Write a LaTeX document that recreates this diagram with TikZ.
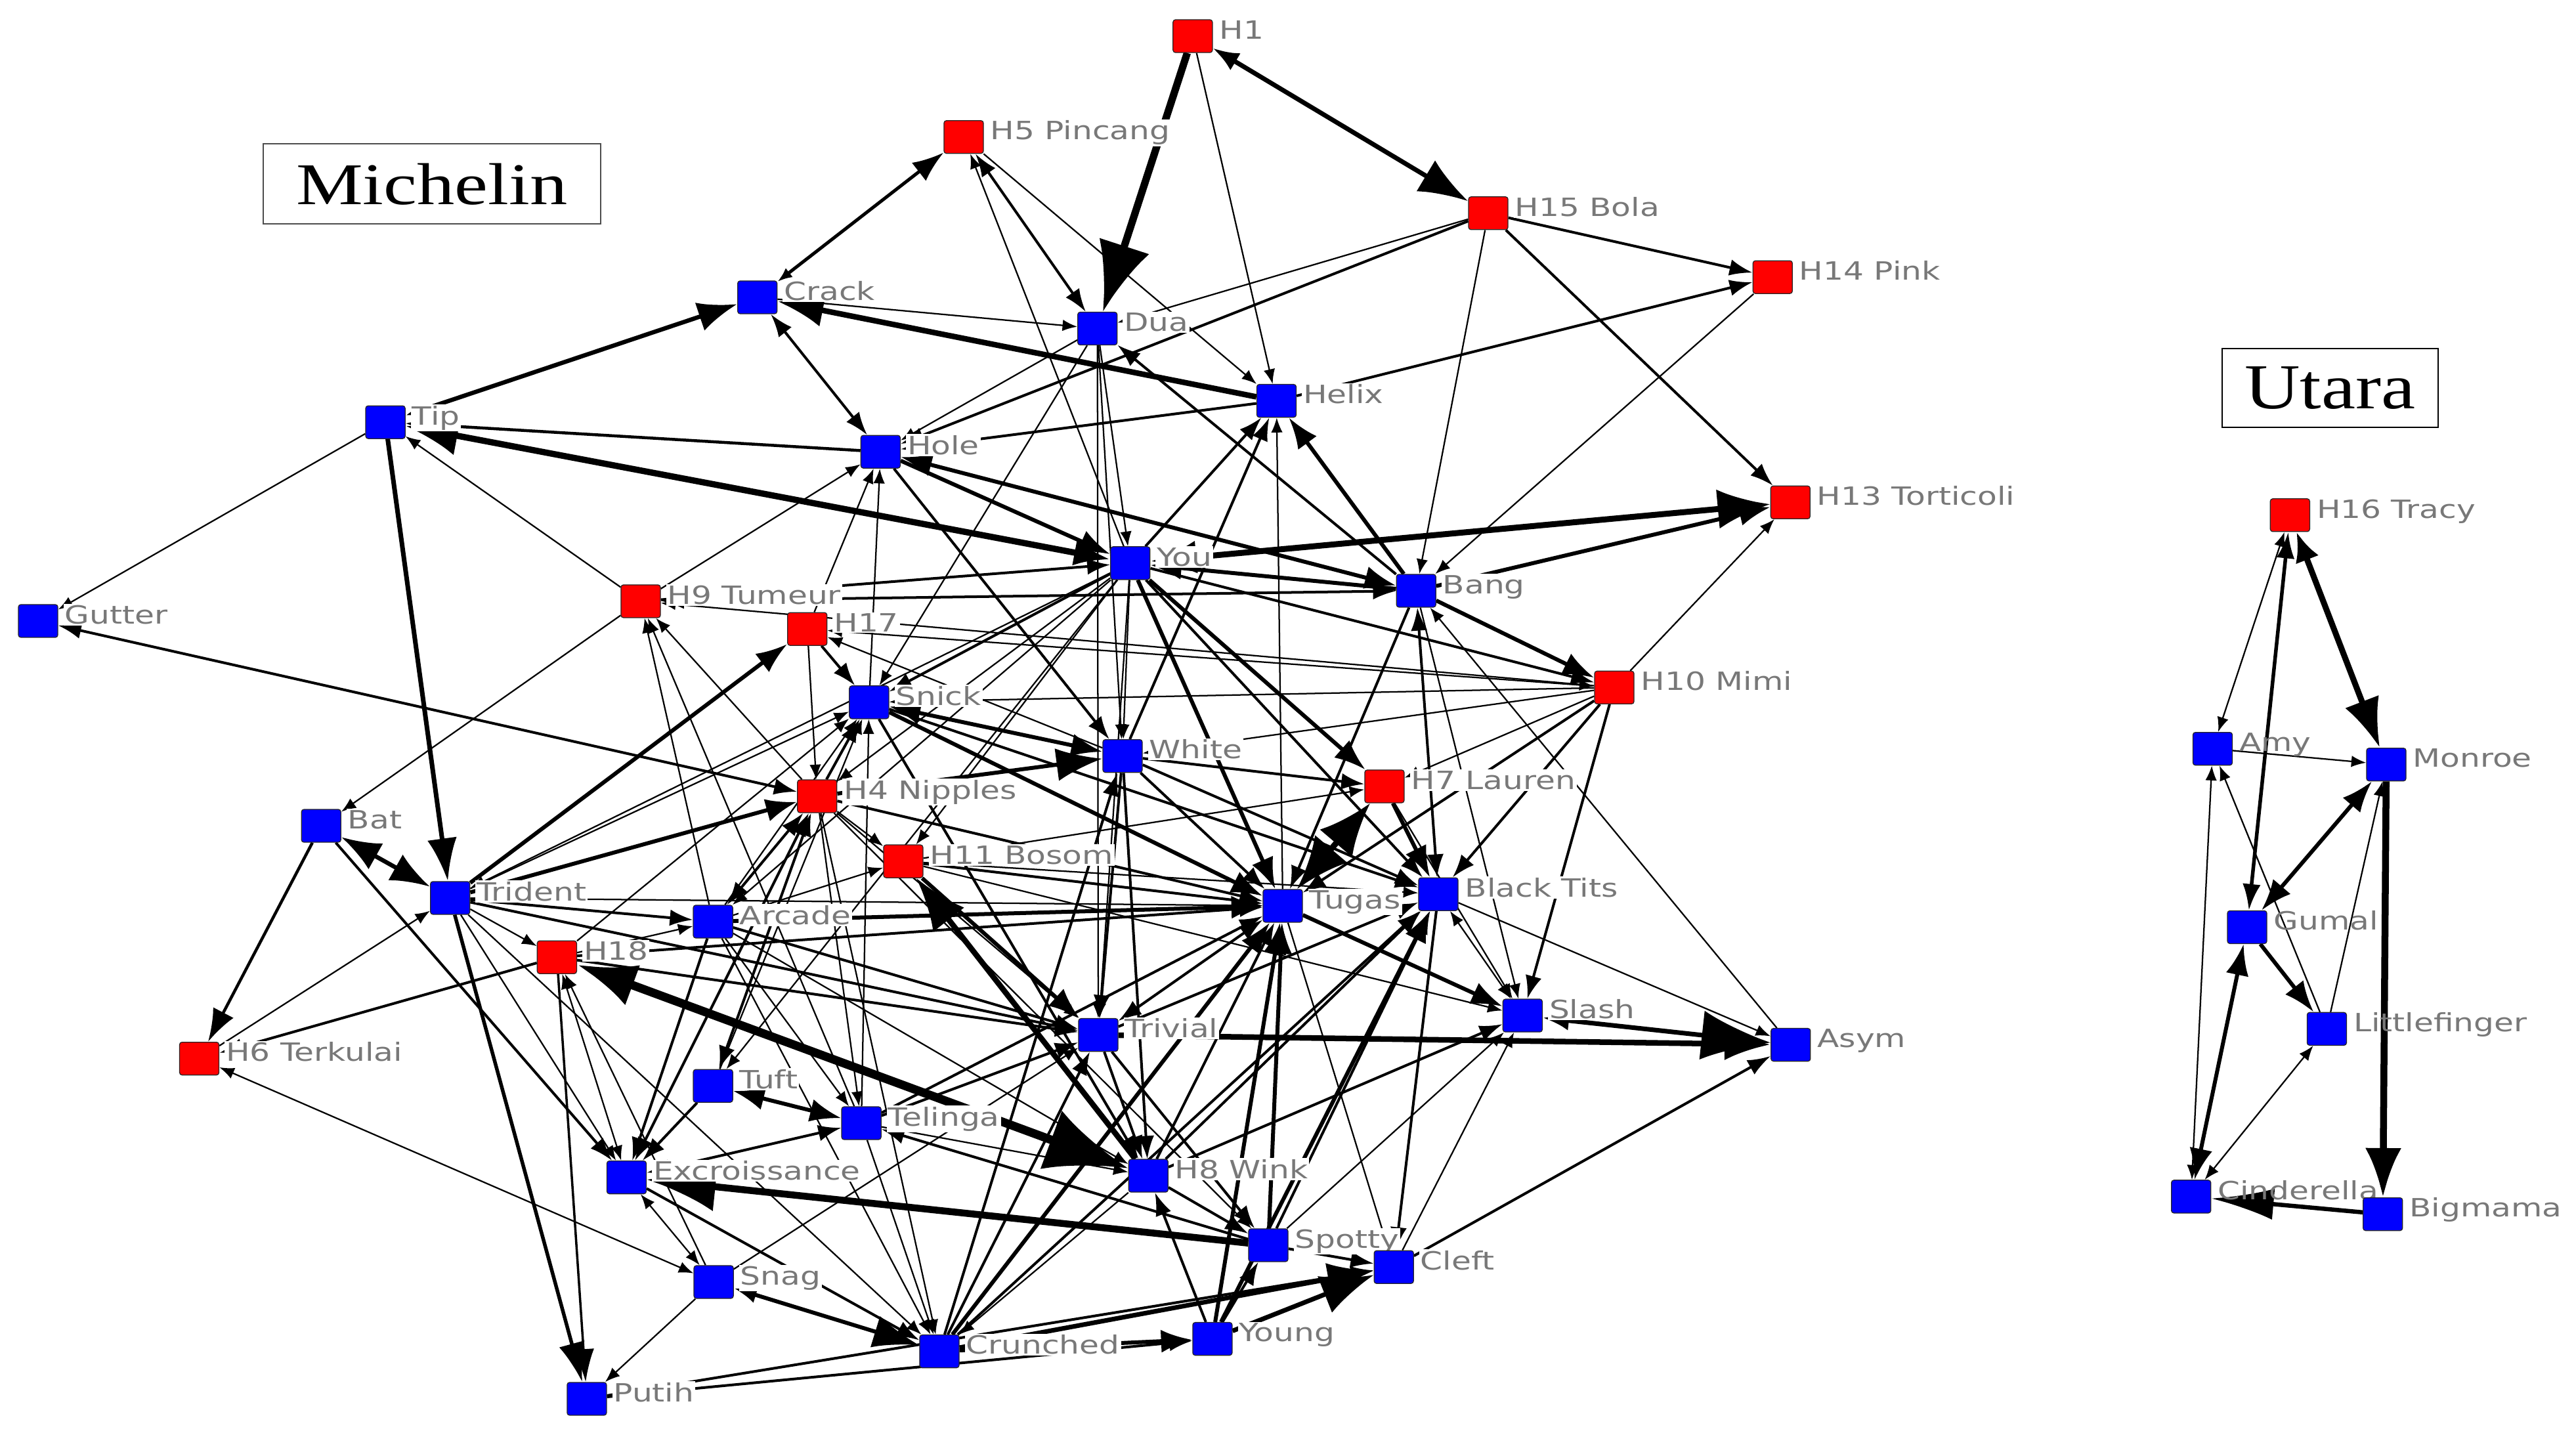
\documentclass[tikz,border=0pt]{standalone}
\usepackage{fontspec}
\usetikzlibrary{arrows.meta}
\newfontfamily\lblfont[FakeStretch=1.27]{DejaVu Sans}
\newfontfamily\michfont[FakeStretch=1.27]{Liberation Serif}
\newfontfamily\utfont[FakeStretch=1.2]{Liberation Serif}
\definecolor{nblue}{RGB}{0,0,255}
\definecolor{nred}{RGB}{255,0,0}
\definecolor{lgray}{RGB}{120,120,120}
\pgfdeclarelayer{edges}
\pgfdeclarelayer{labels}
\pgfsetlayers{edges,labels,main}
\tikzset{
  nb/.style={rectangle, minimum width=24pt, minimum height=20pt, inner sep=0pt, rounded corners=1.5pt, draw=black!85, line width=0.5pt, fill=nblue},
  nr/.style={nb, fill=nred},
  lbl/.style={anchor=base west, inner sep=0.8pt, fill=white, text=lgray, font={\lblfont\fontsize{15.3}{18}\selectfont}},
  lblu/.style={lbl, fill=none},
  ed/.style={draw=black, line join=miter},
  w1/.style={ed, line width=0.9pt, -{Latex[length=9pt,width=7pt]}},
  w2/.style={ed, line width=1.6pt, -{Latex[length=14pt,width=10pt]}},
  w3/.style={ed, line width=2.4pt, -{Latex[length=19pt,width=14pt]}},
  w4/.style={ed, line width=3.4pt, -{Latex[length=28pt,width=20pt]}},
  w5/.style={ed, line width=4.5pt, -{Latex[length=42pt,width=32pt]}},
  b1/.style={ed, line width=0.9pt, {Latex[length=9pt,width=7pt]}-{Latex[length=9pt,width=7pt]}},
  b2/.style={ed, line width=1.6pt, {Latex[length=14pt,width=10pt]}-{Latex[length=14pt,width=10pt]}},
  b3/.style={ed, line width=2.4pt, {Latex[length=19pt,width=14pt]}-{Latex[length=19pt,width=14pt]}},
  b4/.style={ed, line width=3.4pt, {Latex[length=28pt,width=20pt]}-{Latex[length=28pt,width=20pt]}},
}
\newcommand\mknode[4]{\node[#1] (#2) at (#3) {};\begin{pgfonlayer}{labels}\node[lbl] (#2l) at ([xshift=3pt,yshift=-1.7pt]#2.east) {#4};\end{pgfonlayer}}
\newcommand\mknodeu[4]{\node[#1] (#2) at (#3) {};\begin{pgfonlayer}{labels}\node[lblu] (#2l) at ([xshift=3pt,yshift=-1.7pt]#2.east) {#4};\end{pgfonlayer}}
\begin{document}
\begin{tikzpicture}[x=1pt,y=-1pt]
\useasboundingbox (0,0) rectangle (1568,872);
% titles
\node[draw=black!70, line width=0.8pt, minimum width=205.5pt, minimum height=48.7pt, inner sep=0pt] (mich) at (262.8,112) {\michfont\fontsize{36}{40}\selectfont Michelin};
\node[draw=black, line width=0.8pt, minimum width=131.5pt, minimum height=48pt, inner sep=0pt] (utara) at (1418.3,236) {\utfont\fontsize{39}{42}\selectfont Utara};
% Michelin nodes
\mknode{nr}{H1}{726,22}{H1}
\mknode{nr}{H5}{586.6,83.4}{H5 Pincang}
\mknode{nr}{H15}{905.9,129.8}{H15 Bola}
\mknode{nr}{H14}{1079,168.7}{H14 Pink}
\mknode{nb}{Crack}{461,181}{Crack}
\mknode{nb}{Dua}{668,200}{Dua}
\mknode{nb}{Helix}{777,244}{Helix}
\mknode{nb}{Tip}{234.6,257}{Tip}
\mknode{nb}{Hole}{536,275}{Hole}
\mknode{nr}{H13}{1089.8,305.8}{H13 Torticoli}
\mknode{nb}{You}{688,342.8}{You}
\mknode{nb}{Bang}{862,359.6}{Bang}
\mknode{nb}{Gutter}{23.2,378}{Gutter}
\mknode{nr}{H9}{390,366}{H9 Tumeur}
\mknode{nr}{H17}{491.4,382.9}{H17}
\mknode{nr}{H10}{982.6,418.5}{H10 Mimi}
\mknode{nb}{Snick}{529,427.5}{Snick}
\mknode{nb}{White}{683.3,460.2}{White}
\mknode{nr}{H7}{842.7,478.7}{H7 Lauren}
\mknode{nr}{H4}{497.4,484.7}{H4 Nipples}
\mknode{nb}{Bat}{195.5,502.7}{Bat}
\mknode{nr}{H11}{549.8,524.3}{H11 Bosom}
\mknode{nb}{Trident}{274,546.6}{Trident}
\mknode{nb}{Tugas}{780.8,551.4}{Tugas}
\mknode{nb}{BlackTits}{875.5,544.3}{Black Tits}
\mknode{nb}{Arcade}{434,561}{Arcade}
\mknode{nr}{H18}{339,582.7}{H18}
\mknode{nb}{Slash}{926.8,618.2}{Slash}
\mknode{nb}{Asym}{1090,636}{Asym}
\mknode{nb}{Trivial}{668.5,630}{Trivial}
\mknode{nr}{H6}{121.3,644.4}{H6 Terkulai}
\mknode{nb}{Tuft}{434,661}{Tuft}
\mknode{nb}{Telinga}{524.3,683.7}{Telinga}
\mknode{nb}{Excroissance}{381.4,716.7}{Excroissance}
\mknode{nb}{H8}{699,715.7}{H8 Wink}
\mknode{nb}{Spotty}{772,758}{Spotty}
\mknode{nb}{Cleft}{848.4,771.3}{Cleft}
\mknode{nb}{Snag}{434.4,780.4}{Snag}
\mknode{nb}{Young}{738,815}{Young}
\mknode{nb}{Crunched}{571.8,822.6}{Crunched}
\mknode{nb}{Putih}{357.2,851.5}{Putih}
% Utara nodes
\mknodeu{nr}{H16}{1393.9,313.6}{H16 Tracy}
\mknodeu{nb}{Amy}{1346.8,455.8}{Amy}
\mknodeu{nb}{Monroe}{1452.5,465.4}{Monroe}
\mknodeu{nb}{Gumal}{1367.8,564.4}{Gumal}
\mknodeu{nb}{Littlefinger}{1416.3,626.3}{Littlefinger}
\mknodeu{nb}{Cinderella}{1333.7,728.4}{Cinderella}
\mknodeu{nb}{Bigmama}{1450.4,739.1}{Bigmama}
\begin{pgfonlayer}{edges}
% ---- top part
\draw[w5] (H1) -- (Dua);
\draw[ed, line width=2.8pt, {Latex[length=16pt,width=12pt]}-{Latex[length=30pt,width=22pt]}] (H1) -- (H15);
\draw[w1] (H1) -- (Helix);
\draw[ed, line width=2pt, {Latex[length=9pt,width=7pt]}-{Latex[length=19pt,width=14pt]}] (Crack) -- (H5);
\draw[b2] (H5) -- (Dua);
\draw[w1] (H5) -- (Helix);
\draw[w1] (You) -- (H5);
\draw[w1] (Crack) -- (Dua);
\draw[w4] (Helix) -- (Crack);
\draw[b2] (Crack) -- (Hole);
\draw[ed, line width=2.6pt, {Latex[length=9pt,width=7pt]}-{Latex[length=24pt,width=18pt]}] (Tip) -- (Crack);
\draw[w2] (Helix) -- (Hole);
\draw[ed, line width=1.8pt, -{Latex[length=26pt,width=20pt]}] (Hole) -- (Tip);
\draw[ed, line width=3.8pt, {Latex[length=22pt,width=16pt]}-{Latex[length=32pt,width=24pt]}] (You) -- (Tip);
\draw[ed, line width=2.8pt, -{Latex[length=26pt,width=18pt]}] (Tip) -- (Trident);
\draw[w1] (Tip) -- (Gutter);
\draw[w1] (H9) -- (Tip);
\draw[w2] (H15) -- (H14);
\draw[w2] (H15) -- (H13);
\draw[w1] (H15) -- (Dua);
\draw[w2] (H15) -- (Hole);
\draw[w1] (H15) -- (Bang);
\draw[w2] (Helix) -- (H14);
\draw[w1] (H14) -- (Bang);
\draw[ed, line width=3.6pt, {Latex[length=28pt,width=20pt]}-{Latex[length=32pt,width=24pt]}] (You) -- (H13);
\draw[w3] (Bang) -- (H13);
\draw[w1] (H10) -- (H13);
\draw[w1] (Tugas) -- (Helix);
\draw[w3] (Bang) -- (Helix);
\draw[w2] (You) -- (Helix);
\draw[w2] (White) -- (Helix);
\draw[w2] (Bang) -- (Dua);
\draw[w1] (Dua) -- (Hole);
\draw[w1] (Dua) -- (You);
\draw[w1] (Dua) -- (White);
\draw[w1] (Dua) -- (Trivial);
\draw[w1] (Dua) -- (Snick);
\draw[w3] (Hole) -- (You);
\draw[b3] (Hole) -- (Bang);
\draw[w2] (Hole) -- (White);
\draw[w1] (Snick) -- (Hole);
\draw[w1] (H9) -- (Hole);
\draw[w1] (H17) -- (Hole);
\draw[w2] (H9) -- (You);
\draw[b2] (H9) -- (Bang);
\draw[w1] (H10) -- (H9);
\draw[w1] (H9) -- (Bat);
\draw[w1] (H4) -- (H9);
\draw[w1] (Arcade) -- (H9);
\draw[w1] (Telinga) -- (H9);
\draw[b2] (Gutter) -- (H4);
\draw[w3] (Trident) -- (H17);
\draw[w2] (H17) -- (Snick);
\draw[w1] (H17) -- (H4);
\draw[b1] (H17) -- (H10);
\draw[w1] (White) -- (H17);
% ---- You hub
\draw[w3] (Bang) -- (You);
\draw[w1] (You) -- (White);
\draw[w3] (You) -- (H7);
\draw[w3] (You) -- (Tugas);
\draw[w2] (You) -- (BlackTits);
\draw[w2] (You) -- (Snick);
\draw[w1] (You) -- (H4);
\draw[w1] (You) -- (Trident);
\draw[w1] (You) -- (H11);
\draw[w1] (You) -- (Arcade);
\draw[w1] (You) -- (Tuft);
\draw[w1] (You) -- (Trivial);
% ---- right part
\draw[w3] (Bang) -- (H10);
\draw[w2] (You) -- (H10);
\draw[b2] (Bang) -- (BlackTits);
\draw[w2] (Bang) -- (Tugas);
\draw[w1] (Bang) -- (Slash);
\draw[w2] (H10) -- (BlackTits);
\draw[w2] (H10) -- (Tugas);
\draw[w2] (H10) -- (Slash);
\draw[w1] (H10) -- (H7);
\draw[w1] (H10) -- (White);
\draw[w1] (H10) -- (Snick);
\draw[w1] (Asym) -- (Bang);
\draw[w1] (BlackTits) -- (Asym);
\draw[ed, line width=2.8pt, {Latex[length=16pt,width=12pt]}-{Latex[length=42pt,width=30pt]}] (Slash) -- (Asym);
\draw[w4] (Trivial) -- (Asym);
\draw[w2] (Cleft) -- (Asym);
\draw[w3] (Tugas) -- (Slash);
\draw[b1] (BlackTits) -- (Slash);
\draw[w1] (H7) -- (Slash);
\draw[ed, line width=3.6pt, {Latex[length=32pt,width=26pt]}-{Latex[length=32pt,width=26pt]}] (H7) -- (Tugas);
\draw[w3] (H7) -- (BlackTits);
\draw[w2] (White) -- (H7);
\draw[w2] (White) -- (Tugas);
\draw[w2] (White) -- (BlackTits);
\draw[w1] (H11) -- (H7);
% ---- middle
\draw[b3] (Snick) -- (White);
\draw[ed, line width=2.4pt, -{Latex[length=28pt,width=20pt]}] (H4) -- (White);
\draw[w2] (H4) -- (Snick);
\draw[w1] (Arcade) -- (Snick);
\draw[w1] (Trident) -- (Snick);
\draw[w1] (H18) -- (Snick);
\draw[w1] (Tuft) -- (Snick);
\draw[w1] (Telinga) -- (Snick);
\draw[w3] (Snick) -- (Tugas);
\draw[w2] (Snick) -- (BlackTits);
\draw[w3] (Trident) -- (H4);
\draw[w1] (H4) -- (H11);
\draw[b2] (H4) -- (Arcade);
\draw[b2] (Tuft) -- (H4);
\draw[b2] (H4) -- (Excroissance);
\draw[w1] (H4) -- (Telinga);
\draw[w2] (H4) -- (Tugas);
\draw[w1] (H4) -- (Trivial);
\draw[w1] (H4) -- (Crunched);
\draw[w1] (H4) -- (Spotty);
\draw[ed, line width=3.4pt, -{Latex[length=32pt,width=24pt]}] (H8) -- (H11);
\draw[w3] (H11) -- (Trivial);
\draw[w2] (H11) -- (Tugas);
\draw[w1] (Arcade) -- (H11);
\draw[w1] (H11) -- (BlackTits);
\draw[w1] (H11) -- (Slash);
% ---- left part
\draw[ed, line width=2.6pt, {Latex[length=24pt,width=18pt]}-{Latex[length=24pt,width=18pt]}] (Bat) -- (Trident);
\draw[ed, line width=1.8pt, -{Latex[length=20pt,width=14pt]}] (Bat) -- (H6);
\draw[w2] (Bat) -- (Excroissance);
\draw[w2] (Trident) -- (Arcade);
\draw[w1] (Trident) -- (H18);
\draw[ed, line width=2.2pt, -{Latex[length=24pt,width=16pt]}] (Trident) -- (Putih);
\draw[w1] (Trident) -- (Excroissance);
\draw[w1] (Trident) -- (Crunched);
\draw[w1] (H6) -- (Trident);
\draw[w2] (H18) -- (H6);
\draw[b1] (H6) -- (Snag);
\draw[ed, line width=5.2pt, {Latex[length=36pt,width=26pt]}-{Latex[length=50pt,width=38pt]}] (H18) -- (H8);
\draw[w1] (H18) -- (Arcade);
\draw[b1] (H18) -- (Excroissance);
\draw[ed, line width=1.4pt, -{Latex[length=20pt,width=13pt]}] (H18) -- (Putih);
\draw[w1] (Snag) -- (H18);
\draw[w2] (H18) -- (Tugas);
\draw[w2] (H18) -- (Trivial);
\draw[w3] (Arcade) -- (Tugas);
\draw[w2] (Arcade) -- (Excroissance);
\draw[w1] (Arcade) -- (Crunched);
\draw[w1] (Arcade) -- (Telinga);
\draw[w2] (Arcade) -- (Trivial);
\draw[w1] (Arcade) -- (H8);
\draw[w2] (Tuft) -- (Excroissance);
\draw[b3] (Tuft) -- (Telinga);
\draw[b2] (Telinga) -- (Excroissance);
\draw[w2] (Telinga) -- (Trivial);
\draw[w1] (Telinga) -- (H8);
\draw[w1] (Telinga) -- (Crunched);
\draw[w2] (Telinga) -- (Tugas);
% ---- bottom part
\draw[ed, line width=4.2pt, -{Latex[length=42pt,width=30pt]}] (Spotty) -- (Excroissance);
\draw[w2] (Excroissance) -- (Crunched);
\draw[b1] (Excroissance) -- (Snag);
\draw[ed, line width=2.4pt, {Latex[length=14pt,width=10pt]}-{Latex[length=28pt,width=20pt]}] (Snag) -- (Crunched);
\draw[w1] (Snag) -- (Putih);
\draw[w1] (Snag) -- (Trivial);
\draw[w3] (Crunched) -- (Young);
\draw[ed, line width=2.8pt, -{Latex[length=28pt,width=20pt]}] (Crunched) -- (Cleft);
\draw[w2] (Putih) -- (Cleft);
\draw[w2] (Putih) -- (Young);
\draw[w2] (Crunched) -- (Trivial);
\draw[w3] (Crunched) -- (Tugas);
\draw[w2] (Crunched) -- (BlackTits);
\draw[w2] (Crunched) -- (White);
\draw[w3] (Young) -- (Tugas);
\draw[w3] (Young) -- (BlackTits);
\draw[w2] (Young) -- (Spotty);
\draw[w2] (Young) -- (H8);
\draw[ed, line width=2.8pt, -{Latex[length=32pt,width=24pt]}] (Young) -- (Cleft);
\draw[w3] (Spotty) -- (Tugas);
\draw[w2] (Spotty) -- (BlackTits);
\draw[w2] (Spotty) -- (Cleft);
\draw[w2] (H8) -- (Spotty);
\draw[w1] (Spotty) -- (Slash);
\draw[w2] (Spotty) -- (Telinga);
\draw[w2] (Trivial) -- (Spotty);
\draw[w1] (Tugas) -- (Cleft);
\draw[w2] (BlackTits) -- (Cleft);
\draw[w1] (Cleft) -- (Slash);
\draw[b2] (Trivial) -- (Tugas);
\draw[w2] (Trivial) -- (H8);
\draw[w2] (Trivial) -- (BlackTits);
\draw[w2] (White) -- (Trivial);
\draw[w2] (H8) -- (Tugas);
\draw[w2] (H8) -- (BlackTits);
\draw[w2] (H8) -- (Slash);
\draw[w1] (H8) -- (Crunched);
\draw[w2] (White) -- (H8);
\draw[w2] (Snick) -- (H8);
\draw[w2] (Trident) -- (Trivial);
\draw[w1] (Trident) -- (Tugas);
% ---- Utara
\draw[b1] (H16) -- (Amy);
\draw[ed, line width=2.2pt, {Latex[length=16pt,width=11pt]}-{Latex[length=16pt,width=11pt]}] (H16) -- (Gumal);
\draw[ed, line width=3.6pt, {Latex[length=18pt,width=15pt]}-{Latex[length=30pt,width=22pt]}] (H16) -- (Monroe);
\draw[w1] (Amy) -- (Monroe);
\draw[b1] (Amy) -- (Cinderella);
\draw[w1] (Littlefinger) -- (Amy);
\draw[b3] (Gumal) -- (Monroe);
\draw[w3] (Gumal) -- (Littlefinger);
\draw[w1] (Littlefinger) -- (Monroe);
\draw[b3] (Cinderella) -- (Gumal);
\draw[b1] (Cinderella) -- (Littlefinger);
\draw[ed, line width=4.2pt, -{Latex[length=30pt,width=22pt]}] (Monroe) -- (Bigmama);
\draw[ed, line width=2.6pt, -{Latex[length=38pt,width=19pt]}] (Bigmama) -- (Cinderella);
\end{pgfonlayer}
\end{tikzpicture}
\end{document}
